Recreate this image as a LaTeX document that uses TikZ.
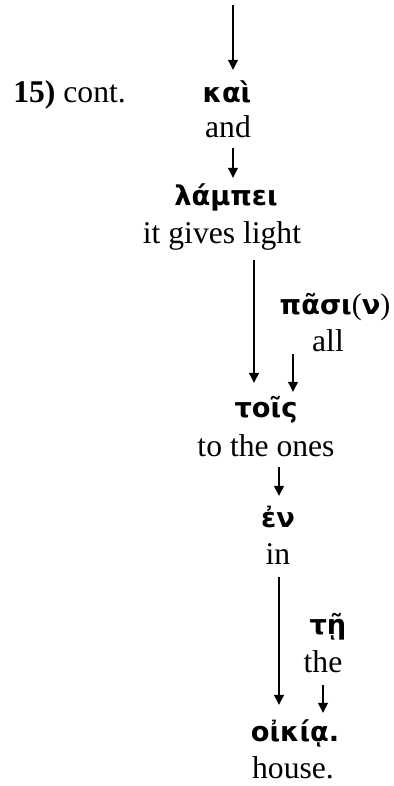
\documentclass[tikz,border=0pt]{standalone}
\usepackage{fontspec}
\setmainfont{Liberation Serif}
\newfontfamily\grkfont[Script=Greek]{DejaVu Sans}
\usetikzlibrary{arrows.meta}

\begin{document}
\begin{tikzpicture}[
  x=0.02cm, y=0.02cm,
  line join=round,
  >={Triangle[length=5.7pt,width=5.4pt]},
  greek/.style={font=\grkfont\bfseries\fontsize{15.5}{18}\selectfont,
    inner sep=0pt, anchor=base},
  gloss/.style={font=\fontsize{18}{21}\selectfont, inner sep=0pt, anchor=base},
  link/.style={draw=black, line width=1.15pt, ->}
]
\useasboundingbox (0,0) rectangle (394,786);

% Verse label, left of the first word.
\node[gloss, anchor=base west] (cont) at (13,683) {\textbf{15)} cont.};

% Words with their glosses, one under the other.
\node[greek] (kai) at (227,683) {καὶ};
\node[gloss] (kaig) at (228,648) {and};
\node[greek] (lampei) at (226,580) {λάμπει};
\node[gloss] (lampeig) at (222,542) {it gives light};
\node[greek] (pasi) at (335,471)
  {πᾶσι{\normalfont\fontsize{17}{18}\selectfont(}ν{\normalfont\fontsize{17}{18}\selectfont)}};
\node[gloss] (pasig) at (328,434) {all};
\node[greek] (tois) at (266,368) {τοῖς};
\node[gloss] (toisg) at (266,329) {to the ones};
\node[greek] (en) at (278,258) {ἐν};
\node[gloss] (eng) at (278,221) {in};
\node[greek] (te) at (328,151) {τῇ};
\node[gloss] (teg) at (323,113) {the};
\node[greek] (oikia) at (295,44) {οἰκίᾳ.};
\node[gloss] (oikiag) at (293,8) {house.};

% Arrow coming in from the previous part.
\coordinate (top) at (233,781);
\draw[link] (top) -- ([shift={(6,33)}]kai.base);

\draw[link] ([shift={(5,-10)}]kaig.base) -- ([shift={(7,28)}]lampei.base);
\draw[link] ([shift={(32,-16)}]lampeig.base) -- ([shift={(-12,35)}]tois.base);
\draw[link] ([shift={(-35,-2)}]pasig.base) -- ([shift={(27,26)}]tois.base);
\draw[link] ([shift={(13,-10)}]toisg.base) -- ([shift={(1,32)}]en.base);
\draw[link] ([shift={(1,-12)}]eng.base) -- ([shift={(-16,37)}]oikia.base);
\draw[link] ([shift={(0,-12)}]teg.base) -- ([shift={(28,29)}]oikia.base);
\end{tikzpicture}
\end{document}
